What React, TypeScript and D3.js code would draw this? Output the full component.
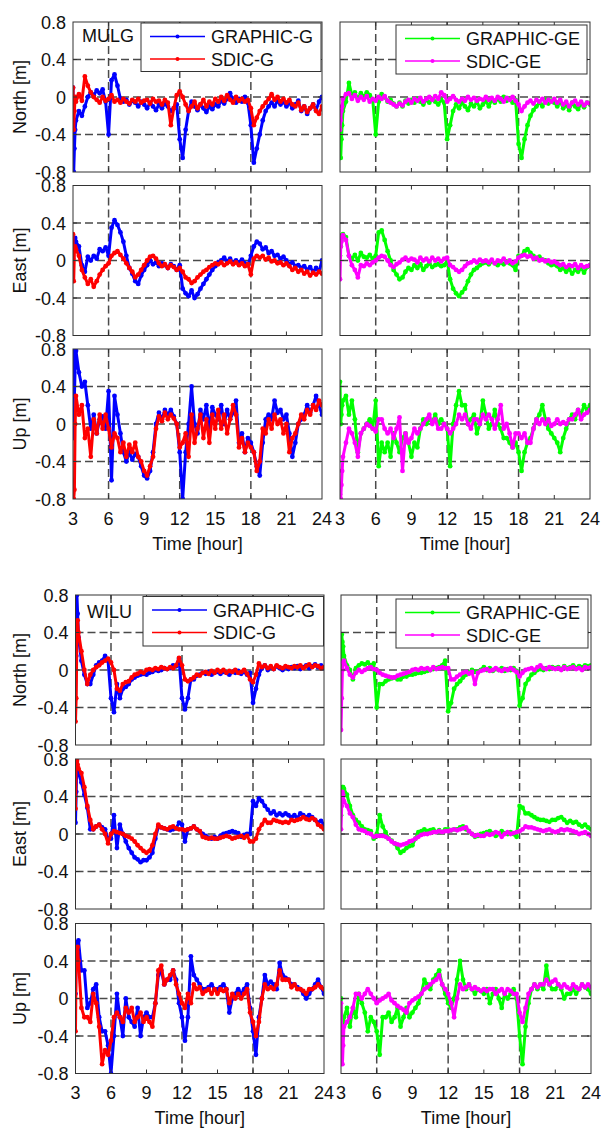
import React from 'react';
import * as d3 from 'd3';

// ---- time axis (hours) ----
const startHours = [3.0, 3.06, 3.12, 3.18];
const hours: number[] = [...startHours, ...d3.range(84).map((i) => 3.25 + 0.25 * i)];
const xTicks = [3, 6, 9, 12, 15, 18, 21, 24];
const yTicks = [-0.8, -0.4, 0, 0.4, 0.8];
const yTickLabels = ['-0.8', '-0.4', '0', '0.4', '0.8'];
const gridX = [6, 12, 18];
const gridY = [-0.4, 0, 0.4];
const rowLabels = ['North [m]', 'East [m]', 'Up [m]'];
const stations = ['MULG', 'WILU'];
const legendLeft = ['GRAPHIC-G', 'SDIC-G'];
const legendRight = ['GRAPHIC-GE', 'SDIC-GE'];

// ---- MULG ----
const mulgNG = [0.1, -0.8, -0.55, -0.35,
  -0.25, -0.15, -0.2, -0.1, 0.0, 0.05, 0.02, 0.07, 0.04, 0.08, -0.05, -0.4,
  0.18, 0.24, 0.12, -0.02, -0.05, -0.03, -0.08, -0.04, -0.06, -0.1, -0.05, -0.08,
  -0.12, -0.06, -0.1, -0.14, -0.08, -0.12, -0.07, -0.1, -0.15, -0.12, -0.08, -0.45,
  -0.65, -0.35, -0.15, -0.05, -0.1, -0.14, -0.08, -0.12, -0.16, -0.1, -0.13, -0.08,
  -0.1, -0.04, -0.07, -0.02, 0.04, -0.03, -0.06, -0.02, -0.05, 0.0, -0.06, -0.3,
  -0.7, -0.55, -0.4, -0.25, -0.15, -0.1, -0.06, -0.1, -0.04, -0.08, -0.05, -0.1,
  -0.06, -0.12, -0.08, -0.04, -0.15, -0.1, -0.18, -0.12, -0.08, -0.14, -0.05, 0.0];
const mulgNS = [0.1, -0.35, -0.15, 0.0,
  -0.05, 0.03, -0.04, 0.22, 0.12, 0.05, 0.0, -0.03, -0.06, 0.0, -0.04, -0.02,
  0.02, -0.05, -0.03, -0.06, -0.02, -0.05, -0.07, -0.03, -0.05, -0.02, -0.06, -0.04,
  -0.03, -0.07, -0.02, -0.05, -0.04, -0.08, -0.03, -0.06, -0.3, -0.12, 0.02, 0.06,
  0.0, -0.08, -0.15, -0.1, -0.05, -0.12, -0.08, -0.03, -0.1, -0.05, -0.08, -0.02,
  -0.05, 0.0, -0.04, 0.02, -0.03, -0.06, 0.0, -0.04, -0.02, -0.05, -0.03, -0.12,
  -0.3, -0.22, -0.15, -0.1, -0.06, -0.02, 0.03, -0.03, 0.0, -0.05, -0.02, -0.06,
  -0.03, -0.08, -0.1, -0.06, -0.14, -0.1, -0.16, -0.12, -0.08, -0.15, -0.18, -0.1];
const mulgNGE = [-0.2, -0.65, -0.45, -0.3,
  -0.15, -0.05, 0.15, 0.02, 0.05, -0.02, 0.04, 0.0, 0.05, 0.02, -0.03, -0.4,
  -0.05, 0.03, 0.0, -0.05, -0.03, -0.07, -0.1, -0.06, -0.1, -0.04, -0.07, -0.03,
  -0.06, -0.02, -0.05, -0.08, -0.03, -0.06, -0.02, -0.05, -0.08, -0.03, -0.06, -0.45,
  -0.3, -0.15, -0.08, -0.12, -0.06, -0.1, -0.14, -0.07, -0.1, -0.05, -0.12, -0.08,
  -0.04, -0.1, -0.03, -0.06, -0.02, -0.05, 0.0, -0.04, -0.02, -0.06, -0.03, -0.5,
  -0.65, -0.45, -0.3, -0.2, -0.14, -0.1, -0.06, -0.1, -0.03, -0.07, -0.04, -0.06,
  -0.1, -0.05, -0.12, -0.08, -0.14, -0.06, -0.1, -0.13, -0.07, -0.11, -0.06, -0.08];
const mulgNSE = [-0.35, -0.25, -0.15, -0.1,
  -0.02, 0.03, 0.04, -0.02, 0.02, -0.04, 0.0, -0.03, 0.01, -0.05, -0.02, -0.04,
  0.0, -0.02, 0.01, -0.04, -0.06, -0.08, -0.1, -0.07, -0.09, -0.05, -0.03, -0.06,
  -0.02, -0.04, -0.01, -0.05, -0.02, 0.0, -0.03, 0.01, -0.02, 0.05, 0.02, -0.05,
  -0.02, 0.01, -0.03, -0.05, -0.02, -0.04, 0.0, -0.03, -0.01, -0.04, -0.02, -0.03,
  0.0, -0.03, -0.01, -0.04, 0.0, -0.02, -0.05, -0.01, -0.03, 0.0, -0.04, -0.08,
  -0.15, -0.1, -0.06, -0.04, -0.07, -0.03, -0.05, -0.02, -0.06, -0.03, -0.05, -0.02,
  -0.06, -0.03, -0.08, -0.05, -0.1, -0.06, -0.04, -0.08, -0.05, -0.09, -0.06, -0.07];

const mulgEG = [0.02, 0.12, 0.2, 0.24,
  0.2, 0.15, -0.05, -0.12, 0.04, 0.0, 0.05, 0.02, 0.12, 0.1, 0.14, 0.05,
  0.35, 0.43, 0.38, 0.3, 0.2, 0.05, -0.08, -0.14, -0.22, -0.25, -0.16, -0.1,
  -0.05, 0.0, -0.04, -0.02, -0.06, -0.03, -0.05, -0.08, -0.04, -0.06, -0.1, -0.05,
  -0.3, -0.35, -0.38, -0.32, -0.4, -0.36, -0.3, -0.25, -0.2, -0.15, -0.1, -0.06,
  -0.02, 0.0, 0.03, -0.01, 0.02, -0.03, 0.0, -0.02, 0.01, -0.03, -0.05, 0.05,
  0.15, 0.2, 0.18, 0.12, 0.14, 0.08, 0.1, 0.05, 0.06, 0.02, 0.04, 0.0,
  -0.04, -0.02, -0.06, -0.05, -0.08, -0.06, -0.1, -0.07, -0.12, -0.08, -0.12, 0.0];
const mulgES = [0.28, -0.22, 0.1, 0.15,
  0.12, 0.05, -0.1, -0.18, -0.25, -0.2, -0.28, -0.22, -0.15, -0.1, -0.06, -0.03,
  0.05, 0.08, 0.1, 0.06, 0.02, -0.03, -0.08, -0.12, -0.18, -0.15, -0.1, -0.05,
  0.0, 0.04, 0.05, 0.02, -0.03, -0.06, -0.04, -0.08, -0.05, -0.07, -0.1, -0.08,
  -0.12, -0.18, -0.2, -0.24, -0.22, -0.18, -0.15, -0.12, -0.1, -0.07, -0.05, -0.03,
  -0.04, -0.02, -0.05, -0.03, -0.01, -0.04, -0.02, -0.05, -0.03, -0.06, -0.04, -0.15,
  0.02, 0.05, 0.03, 0.05, 0.01, 0.03, -0.01, 0.0, -0.03, -0.02, -0.05, -0.03,
  -0.06, -0.1, -0.08, -0.12, -0.1, -0.14, -0.12, -0.16, -0.13, -0.15, -0.12, -0.14];
const mulgEGE = [0.05, 0.15, 0.22, 0.27,
  0.28, 0.25, 0.05, 0.02, 0.06, 0.0, 0.08, 0.04, 0.03, 0.06, 0.02, 0.05,
  0.3, 0.32, 0.22, 0.1, 0.0, -0.1, -0.15, -0.2, -0.18, -0.12, -0.08, -0.1,
  -0.05, -0.08, -0.04, -0.1, -0.06, -0.03, -0.07, -0.05, -0.04, -0.06, -0.05, 0.0,
  -0.2, -0.3, -0.35, -0.38, -0.34, -0.3, -0.22, -0.15, -0.1, -0.08, -0.05, -0.03,
  -0.02, -0.04, -0.01, -0.03, -0.05, -0.02, -0.04, -0.01, -0.03, -0.05, -0.1, 0.05,
  0.05, 0.1, 0.12, 0.08, 0.05, 0.02, 0.04, 0.01, 0.0, -0.03, -0.05, -0.04,
  -0.06, -0.1, -0.08, -0.12, -0.09, -0.14, -0.1, -0.12, -0.08, -0.13, -0.07, -0.05];
const mulgESE = [-0.2, 0.15, 0.2, 0.25,
  0.27, 0.22, 0.05, -0.05, -0.1, -0.18, -0.05, -0.06, -0.03, -0.05, -0.02, 0.0,
  0.03, 0.05, 0.04, 0.0, -0.05, -0.07, -0.04, -0.02, 0.01, 0.03, 0.0, 0.02,
  0.01, -0.02, 0.03, 0.0, 0.02, -0.01, 0.03, 0.0, 0.02, -0.01, 0.02, 0.03,
  -0.05, -0.07, -0.1, -0.12, -0.1, -0.06, -0.03, -0.02, 0.0, -0.02, 0.01, -0.01,
  0.0, -0.02, 0.01, -0.03, 0.0, -0.01, 0.02, -0.02, 0.0, -0.03, -0.01, 0.03,
  0.05, 0.06, 0.04, 0.05, 0.02, 0.03, 0.0, 0.01, -0.01, 0.0, -0.02, -0.01,
  -0.03, -0.05, -0.04, -0.07, -0.05, -0.06, -0.04, -0.08, -0.05, -0.07, -0.06, -0.05];

const mulgUG = [-0.15, 0.8, 0.3, 0.6,
  0.78, 0.55, 0.4, 0.45, 0.2, -0.05, 0.1, -0.1, 0.05, 0.08, -0.05, 0.35,
  -0.6, 0.3, 0.1, -0.1, -0.3, -0.4, -0.3, -0.38, -0.32, -0.35, -0.45, -0.55,
  -0.58, -0.5, -0.3, 0.0, 0.12, 0.05, 0.15, 0.1, 0.15, 0.08, 0.0, -0.3,
  -0.8, -0.3, 0.0, 0.4, 0.0, -0.1, 0.15, 0.05, 0.2, -0.05, 0.18, 0.1,
  0.05, 0.2, 0.0, 0.15, 0.05, 0.12, 0.25, -0.2, -0.1, -0.3, -0.15, -0.2,
  -0.3, -0.45, -0.55, -0.2, 0.05, 0.1, 0.05, 0.25, 0.12, 0.15, 0.05, 0.1,
  -0.1, -0.35, -0.2, 0.0, 0.05, 0.1, 0.2, 0.12, 0.2, 0.3, 0.2, 0.1];
const mulgUS = [-0.6, -0.8, -0.7, 0.0,
  0.3, 0.1, 0.2, -0.15, -0.05, -0.35, 0.05, -0.1, 0.1, -0.05, 0.1, -0.05,
  -0.25, -0.1, -0.15, -0.3, -0.2, -0.35, -0.22, -0.3, -0.2, -0.35, -0.4, -0.5,
  -0.55, -0.45, -0.35, -0.05, 0.08, 0.03, 0.12, 0.05, 0.1, 0.06, 0.0, -0.25,
  -0.2, -0.1, -0.35, 0.1, -0.2, -0.05, 0.1, -0.15, 0.05, -0.2, 0.1, -0.05,
  0.15, -0.05, 0.1, -0.1, 0.05, 0.2, 0.1, -0.25, -0.15, -0.3, -0.2, -0.25,
  -0.3, -0.5, -0.4, -0.05, -0.1, 0.05, -0.05, 0.1, 0.0, 0.05, -0.1, 0.0,
  -0.3, -0.15, -0.1, 0.0, 0.1, 0.05, 0.15, 0.1, 0.2, 0.15, 0.25, 0.2];
const mulgUGE = [0.45, 0.0, 0.1, 0.2,
  0.25, 0.3, 0.1, 0.25, 0.05, -0.3, -0.1, -0.05, 0.0, 0.05, -0.05, 0.25,
  -0.45, -0.2, -0.3, -0.2, -0.35, -0.1, -0.2, -0.3, -0.15, -0.1, -0.2, -0.35,
  -0.2, -0.25, -0.05, 0.05, 0.0, 0.05, 0.02, 0.1, 0.0, 0.05, 0.0, -0.05,
  -0.45, 0.0, 0.2, 0.35, 0.2, 0.2, 0.0, 0.05, 0.1, -0.1, 0.0, 0.25,
  0.1, -0.05, 0.0, 0.15, 0.0, -0.05, -0.15, -0.15, -0.2, -0.25, -0.2, -0.3,
  -0.5, -0.3, -0.2, -0.15, -0.05, 0.05, 0.1, 0.2, 0.05, -0.05, -0.1, -0.15,
  -0.2, -0.3, -0.15, -0.05, 0.05, 0.1, 0.05, 0.15, 0.1, 0.2, 0.15, 0.2];
const mulgUSE = [-0.75, -0.8, -0.65, -0.5,
  -0.35, -0.2, -0.05, -0.1, -0.2, -0.35, -0.1, -0.05, 0.0, -0.02, -0.05, -0.08,
  0.05, 0.05, -0.05, -0.1, -0.05, -0.15, -0.05, 0.07, -0.5, -0.1, -0.2, -0.15,
  -0.05, -0.1, -0.05, 0.0, 0.05, 0.1, 0.0, 0.05, -0.05, -0.05, 0.0, -0.05,
  -0.1, -0.05, 0.0, 0.1, 0.05, 0.1, 0.0, -0.05, 0.05, 0.05, 0.0, 0.1,
  0.05, 0.1, 0.05, -0.05, 0.05, 0.2, -0.05, 0.0, -0.1, -0.25, -0.1, -0.1,
  -0.15, -0.1, -0.2, -0.2, -0.05, 0.05, 0.0, 0.05, 0.0, 0.05, -0.02, 0.0,
  0.05, 0.0, 0.02, 0.0, 0.05, 0.05, 0.1, 0.15, 0.05, 0.1, 0.12, 0.15];

// ---- WILU ----
const wiluNG = [-0.3, 0.15, 0.8, 0.6,
  0.35, 0.1, -0.05, -0.15, -0.15, -0.05, 0.05, 0.08, 0.1, 0.15, 0.1, -0.3,
  -0.45, -0.15, -0.3, -0.2, -0.18, -0.15, -0.1, -0.08, -0.06, -0.05, -0.04, -0.05,
  -0.03, -0.02, 0.0, -0.01, 0.0, 0.02, 0.01, 0.02, 0.05, 0.04, 0.12, -0.3,
  -0.42, -0.3, -0.1, -0.1, -0.06, -0.05, -0.03, -0.04, -0.02, -0.05, -0.03, -0.02,
  -0.04, -0.02, -0.03, -0.05, -0.02, -0.03, -0.01, -0.04, -0.02, -0.05, -0.03, -0.35,
  -0.2, -0.05, 0.02, 0.05, 0.0, 0.03, 0.01, 0.04, 0.02, 0.0, 0.03, 0.01,
  0.03, 0.02, 0.04, 0.01, 0.03, 0.05, 0.02, 0.04, 0.06, 0.03, 0.05, 0.02];
const wiluNS = [-0.55, -0.3, 0.4, 0.53,
  0.4, 0.2, 0.0, -0.15, -0.05, 0.0, 0.03, 0.05, 0.08, 0.1, 0.12, 0.08,
  0.0, -0.2, -0.22, -0.15, -0.13, -0.12, -0.08, -0.05, -0.04, -0.02, -0.03, 0.0,
  0.01, 0.0, 0.02, 0.01, 0.03, 0.02, 0.01, 0.03, 0.02, 0.05, 0.13, 0.05,
  -0.1, -0.12, -0.1, -0.08, -0.05, -0.06, -0.03, -0.02, -0.04, -0.01, -0.03, 0.0,
  -0.02, 0.0, -0.03, -0.01, -0.02, 0.0, -0.03, -0.02, 0.0, -0.04, -0.1, -0.13,
  -0.05, 0.07, 0.03, 0.05, 0.02, 0.04, 0.01, 0.05, 0.03, 0.02, 0.04, 0.03,
  0.02, 0.04, 0.03, 0.05, 0.02, 0.04, 0.06, 0.03, 0.05, 0.04, 0.02, 0.03];
const wiluNGE = [0.0, 0.38, 0.3, 0.25,
  0.15, 0.05, 0.0, -0.1, 0.02, 0.05, 0.07, 0.06, 0.08, 0.05, 0.07, -0.4,
  -0.15, -0.15, -0.12, -0.1, -0.09, -0.08, -0.1, -0.1, -0.07, -0.07, -0.05, -0.05,
  -0.04, -0.03, -0.03, -0.02, -0.01, 0.0, 0.01, 0.02, 0.03, 0.05, 0.1, -0.44,
  -0.35, -0.2, -0.15, -0.12, -0.08, -0.05, -0.03, 0.0, -0.02, -0.02, 0.0, 0.03,
  0.0, 0.02, -0.01, 0.01, 0.0, 0.02, -0.01, 0.01, 0.0, 0.02, -0.01, -0.38,
  -0.3, -0.15, -0.1, -0.05, -0.03, 0.0, 0.01, 0.0, 0.02, 0.01, 0.03, 0.02,
  0.03, 0.01, 0.04, 0.02, 0.03, 0.05, 0.02, 0.04, 0.03, 0.05, 0.04, 0.05];
const wiluNSE = [-0.64, -0.3, 0.0, 0.08,
  0.1, 0.02, -0.05, -0.08, -0.03, 0.0, -0.02, 0.0, 0.02, 0.03, 0.01, 0.0,
  -0.03, -0.05, -0.06, -0.07, -0.08, -0.08, -0.06, -0.05, -0.04, -0.03, -0.02, 0.0,
  0.01, 0.0, 0.02, 0.01, 0.02, 0.0, 0.03, 0.01, 0.02, 0.03, 0.02, 0.02,
  -0.1, -0.1, -0.07, -0.05, -0.03, -0.02, -0.04, -0.02, -0.15, -0.03, -0.01, 0.0,
  0.01, -0.01, 0.0, 0.02, 0.0, -0.01, 0.01, 0.0, 0.02, 0.0, -0.02, -0.07,
  -0.03, 0.0, 0.01, 0.02, 0.0, 0.03, 0.05, 0.02, 0.01, 0.03, 0.02, 0.01,
  0.02, 0.0, 0.03, 0.01, 0.02, 0.03, 0.01, 0.02, 0.0, 0.03, 0.02, 0.03];

const wiluEG = [0.12, 0.45, 0.8, 0.7,
  0.65, 0.55, 0.42, 0.28, 0.05, 0.05, 0.08, 0.1, 0.07, 0.05, -0.05, -0.05,
  0.2, -0.15, 0.1, 0.0, -0.08, -0.15, -0.2, -0.25, -0.27, -0.3, -0.28, -0.28,
  -0.25, -0.2, -0.05, 0.08, 0.07, 0.06, 0.05, 0.04, 0.05, 0.06, 0.12, 0.1,
  -0.08, 0.05, 0.06, 0.08, 0.05, 0.03, 0.0, -0.02, -0.04, -0.05, -0.03, -0.05,
  -0.02, 0.0, 0.01, 0.02, 0.03, 0.02, 0.01, -0.03, -0.01, 0.0, 0.0, 0.35,
  0.3, 0.38, 0.35, 0.3, 0.26, 0.22, 0.24, 0.2, 0.22, 0.2, 0.22, 0.2,
  0.18, 0.2, 0.17, 0.22, 0.2, 0.18, 0.2, 0.18, 0.15, 0.12, 0.14, 0.1];
const wiluES = [0.27, 0.8, 0.78, 0.74,
  0.7, 0.65, 0.5, 0.3, 0.15, 0.05, 0.08, 0.1, 0.05, 0.0, -0.1, 0.0,
  0.03, 0.02, 0.01, 0.0, -0.02, -0.03, -0.05, -0.08, -0.12, -0.15, -0.18, -0.2,
  -0.18, -0.12, 0.0, 0.1, 0.07, 0.06, 0.05, 0.07, 0.08, 0.06, 0.05, 0.05,
  0.04, 0.05, 0.06, 0.08, 0.05, 0.03, -0.03, -0.04, -0.05, -0.04, -0.05, -0.05,
  -0.04, -0.03, -0.02, -0.03, -0.05, -0.04, -0.03, -0.02, -0.04, -0.02, -0.08, -0.08,
  -0.05, 0.05, 0.1, 0.15, 0.12, 0.12, 0.15, 0.14, 0.13, 0.12, 0.13, 0.12,
  0.15, 0.14, 0.15, 0.16, 0.18, 0.16, 0.15, 0.17, 0.15, 0.1, 0.08, 0.05];
const wiluEGE = [0.2, 0.45, 0.5, 0.5,
  0.48, 0.42, 0.3, 0.2, 0.15, 0.12, 0.08, 0.05, 0.04, 0.03, -0.05, 0.0,
  0.2, 0.08, 0.02, -0.05, -0.07, -0.1, -0.15, -0.2, -0.18, -0.15, -0.13, -0.12,
  -0.05, 0.02, 0.03, 0.05, 0.03, 0.04, 0.05, 0.02, 0.04, 0.02, 0.05, 0.05,
  0.04, 0.05, 0.05, 0.07, 0.08, 0.05, 0.03, 0.0, -0.03, -0.02, 0.0, 0.01,
  0.02, 0.03, 0.01, -0.02, 0.0, 0.03, 0.01, 0.0, 0.02, 0.0, -0.03, 0.3,
  0.28, 0.22, 0.22, 0.2, 0.18, 0.16, 0.15, 0.15, 0.14, 0.13, 0.15, 0.15,
  0.17, 0.18, 0.15, 0.12, 0.14, 0.12, 0.13, 0.1, 0.08, 0.1, 0.07, 0.05];
const wiluESE = [0.05, 0.3, 0.45, 0.42,
  0.35, 0.3, 0.22, 0.18, 0.1, 0.05, 0.04, 0.03, 0.01, 0.0, -0.03, -0.02,
  -0.02, -0.02, -0.03, -0.05, -0.08, -0.1, -0.11, -0.12, -0.11, -0.1, -0.08, -0.07,
  -0.05, -0.03, -0.01, 0.0, 0.0, 0.01, 0.02, 0.02, 0.03, 0.02, 0.03, 0.03,
  0.04, 0.05, 0.04, 0.05, 0.06, 0.07, 0.03, 0.0, -0.02, -0.01, -0.02, -0.02,
  0.0, -0.01, 0.0, 0.02, 0.01, -0.03, 0.0, 0.02, 0.0, 0.01, 0.02, 0.03,
  0.05, 0.08, 0.07, 0.07, 0.06, 0.05, 0.04, 0.03, 0.04, 0.05, 0.03, 0.02,
  0.03, 0.05, 0.04, 0.05, 0.04, 0.03, 0.02, 0.0, 0.01, 0.02, 0.0, -0.02];

const wiluUG = [0.05, 0.5, 0.55, 0.6,
  0.62, 0.3, 0.3, -0.1, -0.05, 0.1, 0.15, -0.2, -0.35, -0.35, -0.5, -0.8,
  -0.4, 0.05, -0.2, -0.4, 0.0, -0.2, -0.25, -0.3, -0.1, -0.4, -0.2, -0.15,
  -0.2, -0.2, -0.05, 0.25, 0.3, 0.15, 0.2, 0.2, 0.3, 0.2, -0.05, -0.2,
  -0.45, -0.2, 0.45, 0.25, 0.2, 0.15, 0.1, 0.1, 0.12, 0.15, 0.1, 0.1,
  0.12, 0.15, 0.1, -0.15, 0.0, 0.05, 0.1, 0.05, 0.1, 0.15, -0.1, -0.35,
  -0.6, -0.2, 0.0, 0.25, 0.15, 0.18, 0.15, 0.1, 0.38, 0.25, 0.22, 0.2,
  0.15, 0.15, 0.12, 0.1, 0.05, 0.0, 0.05, 0.1, 0.15, 0.2, 0.12, 0.05];
const wiluUS = [-0.35, 0.45, 0.5, 0.55,
  0.4, -0.1, -0.2, -0.2, -0.25, 0.05, -0.05, -0.3, -0.7, -0.55, -0.6, -0.45,
  -0.2, -0.15, -0.2, -0.25, -0.1, -0.15, -0.1, -0.25, -0.2, -0.15, -0.25, -0.2,
  -0.25, -0.3, -0.05, 0.3, 0.35, 0.15, 0.2, 0.25, 0.3, 0.15, 0.05, -0.05,
  -0.1, 0.05, -0.05, 0.15, 0.1, 0.12, 0.05, 0.08, 0.1, 0.05, 0.1, 0.05,
  0.1, 0.08, 0.1, -0.05, 0.05, 0.0, 0.05, 0.0, 0.05, 0.1, -0.15, -0.25,
  -0.4, -0.25, 0.0, 0.15, 0.1, 0.12, 0.1, 0.15, 0.3, 0.2, 0.2, 0.2,
  0.12, 0.15, 0.1, 0.1, 0.08, 0.05, 0.1, 0.1, 0.12, 0.15, 0.12, 0.1];
const wiluUGE = [0.0, -0.3, -0.25, -0.3,
  -0.2, -0.1, -0.3, -0.1, -0.2, 0.05, -0.05, -0.15, -0.35, -0.2, -0.25, -0.35,
  -0.6, -0.2, -0.2, -0.15, -0.25, -0.2, -0.1, -0.3, -0.2, -0.1, -0.2, -0.15,
  -0.1, -0.05, 0.05, 0.2, 0.15, 0.1, 0.2, 0.25, 0.3, 0.15, 0.05, -0.05,
  -0.1, 0.0, 0.2, 0.4, 0.2, 0.1, 0.15, 0.1, 0.05, 0.1, 0.08, 0.05,
  0.1, -0.05, 0.05, 0.1, 0.0, -0.1, 0.05, 0.0, 0.05, 0.1, 0.0, -0.4,
  -0.7, -0.3, -0.05, 0.1, 0.15, 0.1, 0.15, 0.1, 0.35, 0.15, 0.1, 0.1,
  0.15, 0.1, 0.0, 0.05, 0.05, 0.1, 0.05, 0.1, 0.15, 0.12, 0.1, 0.05];
const wiluUSE = [-0.05, -0.4, -0.7, -0.5,
  -0.3, -0.25, -0.2, -0.1, 0.05, 0.05, 0.0, 0.05, 0.1, 0.05, 0.0, -0.05,
  -0.02, 0.0, 0.02, 0.05, -0.02, -0.05, -0.08, -0.1, -0.12, -0.15, -0.05, -0.02,
  0.0, 0.02, 0.05, 0.1, 0.12, 0.15, 0.18, 0.2, 0.25, 0.15, 0.1, 0.05,
  -0.05, -0.2, 0.0, 0.15, 0.1, 0.12, 0.15, 0.1, 0.12, 0.1, 0.08, 0.1,
  0.08, 0.1, 0.1, 0.05, 0.08, 0.1, 0.05, 0.1, 0.08, 0.05, 0.05, -0.15,
  -0.25, -0.1, 0.05, 0.1, 0.15, 0.12, 0.15, 0.15, 0.2, 0.15, 0.18, 0.2,
  0.15, 0.12, 0.15, 0.12, 0.1, 0.15, 0.12, 0.1, 0.15, 0.12, 0.15, 0.12];

const seriesColors = { G: '#0000ff', S: '#ff0000', GE: '#00ff00', SE: '#ff00ff' };

const stationData = [
  {
    left: [[mulgNG, mulgNS], [mulgEG, mulgES], [mulgUG, mulgUS]],
    right: [[mulgNGE, mulgNSE], [mulgEGE, mulgESE], [mulgUGE, mulgUSE]],
  },
  {
    left: [[wiluNG, wiluNS], [wiluEG, wiluES], [wiluUG, wiluUS]],
    right: [[wiluNGE, wiluNSE], [wiluEGE, wiluESE], [wiluUGE, wiluUSE]],
  },
];

// ---- layout ----
const layout = [
  { leftX: [73, 322], rightX: [340, 590], tops: [22, 185.5, 349], stationXY: [82, 41.5],
    legL: [141, 23, 180, 48.5], legR: [396, 25, 191, 49] },
  { leftX: [75.5, 324], rightX: [341, 591], tops: [595, 759, 923.5], stationXY: [87, 618],
    legL: [143, 596.5, 180.5, 49.5], legR: [396, 599, 192, 49] },
];
const PH = 150;
const FONT = 'Liberation Sans, Arial, Helvetica, sans-serif';
const TXT = '#111';
const GRID = '#4a4a4a';

function Panel({ x0, x1, top, series, colors, showY, showX, clipId }: any) {
  const xs = d3.scaleLinear().domain([3, 24]).range([x0, x1]);
  const ys = d3.scaleLinear().domain([-0.8, 0.8]).range([top + PH, top]);
  const line = d3.line<number>().x((_, i) => xs(hours[i])).y((d) => ys(d));
  const minorTicks = xTicks.filter((t) => t > 3 && t < 24);
  const yInner = yTicks.filter((t) => t > -0.8 && t < 0.8);
  return (
    <g>
      <defs>
        <clipPath id={clipId}>
          <rect x={x0} y={top} width={x1 - x0} height={PH} />
        </clipPath>
      </defs>
      <rect x={x0} y={top} width={x1 - x0} height={PH} fill="#fff" />
      {gridY.map((v) => (
        <line key={'gy' + v} x1={x0} x2={x1} y1={ys(v)} y2={ys(v)} stroke={GRID} strokeWidth={1.5} strokeDasharray="8,4" />
      ))}
      {gridX.map((v) => (
        <line key={'gx' + v} x1={xs(v)} x2={xs(v)} y1={top} y2={top + PH} stroke={GRID} strokeWidth={1.5} strokeDasharray="8,4" />
      ))}
      <g clipPath={`url(#${clipId})`}>
        {series.map((s: number[], k: number) => (
          <g key={k}>
            <path d={line(s) || ''} fill="none" stroke={colors[k]} strokeWidth={3} strokeLinejoin="round" />
            {s.map((v, i) => (
              <circle key={i} cx={xs(hours[i])} cy={ys(v)} r={2.4} fill={colors[k]} />
            ))}
          </g>
        ))}
      </g>
      {minorTicks.map((t) => (
        <g key={'xt' + t}>
          <line x1={xs(t)} x2={xs(t)} y1={top} y2={top + 4} stroke="#333" strokeWidth={1} />
          <line x1={xs(t)} x2={xs(t)} y1={top + PH} y2={top + PH - 4} stroke="#333" strokeWidth={1} />
        </g>
      ))}
      {yInner.map((t) => (
        <g key={'yt' + t}>
          <line x1={x0} x2={x0 + 4} y1={ys(t)} y2={ys(t)} stroke="#333" strokeWidth={1} />
          <line x1={x1} x2={x1 - 4} y1={ys(t)} y2={ys(t)} stroke="#333" strokeWidth={1} />
        </g>
      ))}
      <rect x={x0} y={top} width={x1 - x0} height={PH} fill="none" stroke="#333" strokeWidth={1} />
      {showY && yTicks.map((t, i) => (
        <text key={'yl' + t} x={x0 - 7} y={ys(t) + 6.5} textAnchor="end" fontSize={18} fontFamily={FONT} fill={TXT}>
          {yTickLabels[i]}
        </text>
      ))}
      {showX && xTicks.map((t) => (
        <text key={'xl' + t} x={xs(t)} y={top + PH + 25.5} textAnchor="middle" fontSize={18} fontFamily={FONT} fill={TXT}>
          {t}
        </text>
      ))}
      {showX && (
        <text x={(x0 + x1) / 2} y={top + PH + 50.5} textAnchor="middle" fontSize={18} fontFamily={FONT} fill={TXT}>
          Time [hour]
        </text>
      )}
    </g>
  );
}

function Legend({ box, labels, colors }: any) {
  const [bx, by, bw, bh] = box;
  return (
    <g>
      <rect x={bx} y={by} width={bw} height={bh} fill="#fff" stroke="#333" strokeWidth={1} />
      {labels.map((lab: string, k: number) => {
        const cy = by + 13.5 + k * 22.5;
        return (
          <g key={lab}>
            <line x1={bx + 9} x2={bx + 64} y1={cy} y2={cy} stroke={colors[k]} strokeWidth={1.5} />
            <circle cx={bx + 36.5} cy={cy} r={2} fill={colors[k]} />
            <text x={bx + 70} y={cy + 6.5} fontSize={18} fontFamily={FONT} fill={TXT}>{lab}</text>
          </g>
        );
      })}
    </g>
  );
}

export default function App() {
  return (
    <svg width={601} height={1128} viewBox="0 0 601 1128"
      style={{ position: 'absolute', left: 0, top: 0, background: '#fff' }}>
      <rect x={0} y={0} width={601} height={1128} fill="#fff" />
      {layout.map((L, g) => (
        <g key={g}>
          {L.tops.map((top, r) => (
            <g key={r}>
              <Panel x0={L.leftX[0]} x1={L.leftX[1]} top={top} series={stationData[g].left[r]}
                colors={[seriesColors.G, seriesColors.S]} showY showX={r === 2} clipId={`c${g}l${r}`} />
              <Panel x0={L.rightX[0]} x1={L.rightX[1]} top={top} series={stationData[g].right[r]}
                colors={[seriesColors.GE, seriesColors.SE]} showY={false} showX={r === 2} clipId={`c${g}r${r}`} />
              <text transform={`translate(25.5,${top + PH / 2}) rotate(-90)`} textAnchor="middle"
                fontSize={18} fontFamily={FONT} fill={TXT}>{rowLabels[r]}</text>
            </g>
          ))}
          <Legend box={L.legL} labels={legendLeft} colors={[seriesColors.G, seriesColors.S]} />
          <Legend box={L.legR} labels={legendRight} colors={[seriesColors.GE, seriesColors.SE]} />
          <text x={L.stationXY[0]} y={L.stationXY[1]} fontSize={18} fontFamily={FONT} fill={TXT}>{stations[g]}</text>
        </g>
      ))}
    </svg>
  );
}
